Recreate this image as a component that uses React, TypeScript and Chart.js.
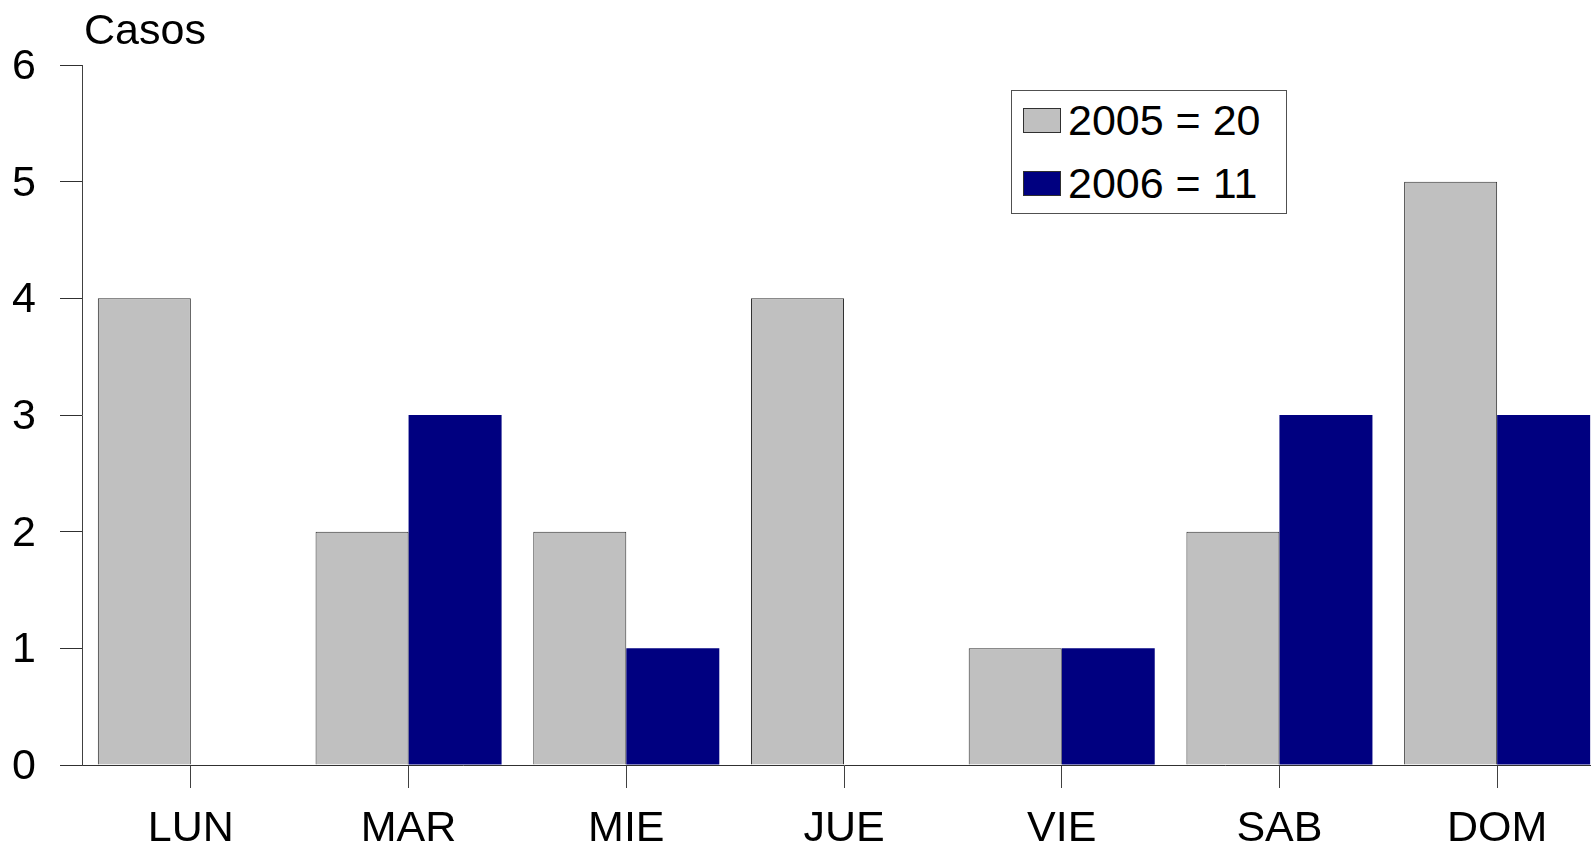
import React, { useEffect, useRef } from "react";
import { Chart, registerables } from "chart.js";

Chart.register(...registerables);

const categories = ["LUN", "MAR", "MIE", "JUE", "VIE", "SAB", "DOM"];
const seriesNames = ["2005", "2006"];
const values2005 = [4, 2, 2, 4, 1, 2, 5];
const values2006 = [0, 3, 1, 0, 1, 3, 3];
const yTicks = [0, 1, 2, 3, 4, 5, 6];
const yTitle = "Casos";

const colors = ["#C0C0C0", "#000080"];
const FONT = '"Liberation Sans", Arial, sans-serif';

const CANVAS_W = 1606;
const CANVAS_H = 850;

const total = (a: number[]) => a.reduce((s, v) => s + v, 0);

export default function App() {
  const ref = useRef<HTMLCanvasElement | null>(null);

  useEffect(() => {
    if (!ref.current) return;
    const titlePlugin = {
      id: "yTitle",
      afterDraw(chart: any) {
        const { ctx, chartArea } = chart;
        ctx.save();
        ctx.font = `43px ${FONT}`;
        ctx.fillStyle = "#000";
        ctx.textAlign = "left";
        ctx.textBaseline = "alphabetic";
        ctx.fillText(yTitle, chartArea.left + 2, chartArea.top - 21);
        ctx.restore();
      },
    };
    const chart = new Chart(ref.current, {
      type: "bar",
      data: {
        labels: categories,
        datasets: [
          {
            label: seriesNames[0],
            data: values2005,
            backgroundColor: colors[0],
            borderColor: "#303030",
            borderWidth: 1,
            categoryPercentage: 0.8545,
            barPercentage: 1,
          },
          {
            label: seriesNames[1],
            data: values2006,
            backgroundColor: colors[1],
            borderColor: colors[1],
            borderWidth: 0,
            categoryPercentage: 0.8545,
            barPercentage: 1,
          },
        ],
      },
      options: {
        responsive: false,
        animation: false,
        devicePixelRatio: 1,
        layout: { padding: { top: 65, left: 0, right: 0, bottom: 0 } },
        plugins: {
          legend: { display: false },
          tooltip: { enabled: false },
        },
        scales: {
          x: {
            offset: true,
            grid: {
              offset: false,
              drawOnChartArea: false,
              drawTicks: true,
              tickLength: 23,
              color: "#404040",
              lineWidth: 1,
            },
            border: { display: true, color: "#303030", width: 1 },
            ticks: {
              color: "#000",
              font: { family: FONT, size: 43 },
              padding: 15,
              maxRotation: 0,
              autoSkip: false,
            },
            afterFit(scale: any) {
              scale.height = CANVAS_H - 765;
            },
          },
          y: {
            min: 0,
            max: 6,
            afterBuildTicks(scale: any) {
              scale.ticks = yTicks.map((v) => ({ value: v }));
            },
            grid: {
              drawOnChartArea: false,
              drawTicks: true,
              tickLength: 22,
              color: "#303030",
              lineWidth: 1,
            },
            border: { display: true, color: "#404040", width: 1 },
            ticks: {
              color: "#000",
              font: { family: FONT, size: 43 },
              padding: 24,
              labelOffset: 2,
            },
            afterFit(scale: any) {
              scale.width = 82;
            },
          },
        },
      },
      plugins: [titlePlugin],
    });
    return () => chart.destroy();
  }, []);

  const rows = [
    { name: seriesNames[0], sum: total(values2005), color: colors[0], top: 18 },
    { name: seriesNames[1], sum: total(values2006), color: colors[1], top: 81 },
  ];

  return (
    <div
      style={{
        position: "fixed",
        left: 0,
        top: 0,
        width: "100vw",
        height: "100vh",
        overflow: "hidden",
        background: "#fff",
      }}
    >
      <canvas
        ref={ref}
        width={CANVAS_W}
        height={CANVAS_H}
        style={{ display: "block", width: CANVAS_W, height: CANVAS_H }}
      />
      <div
        style={{
          position: "absolute",
          left: 1011,
          top: 90,
          width: 276,
          height: 124,
          boxSizing: "border-box",
          border: "1px solid #505050",
          background: "#fff",
          fontFamily: FONT,
        }}
      >
        {rows.map((r) => (
          <div
            key={r.name}
            style={{
              position: "absolute",
              left: 11,
              top: r.top - 1,
              height: 25,
              display: "flex",
              alignItems: "center",
              whiteSpace: "nowrap",
            }}
          >
            <div
              style={{
                width: 38,
                height: 25,
                boxSizing: "border-box",
                border: "1px solid #303030",
                background: r.color,
              }}
            />
            <span
              style={{
                marginLeft: 7,
                fontSize: 43,
                lineHeight: "25px",
                color: "#000",
              }}
            >
              {`${r.name} = ${r.sum}`}
            </span>
          </div>
        ))}
      </div>
    </div>
  );
}
